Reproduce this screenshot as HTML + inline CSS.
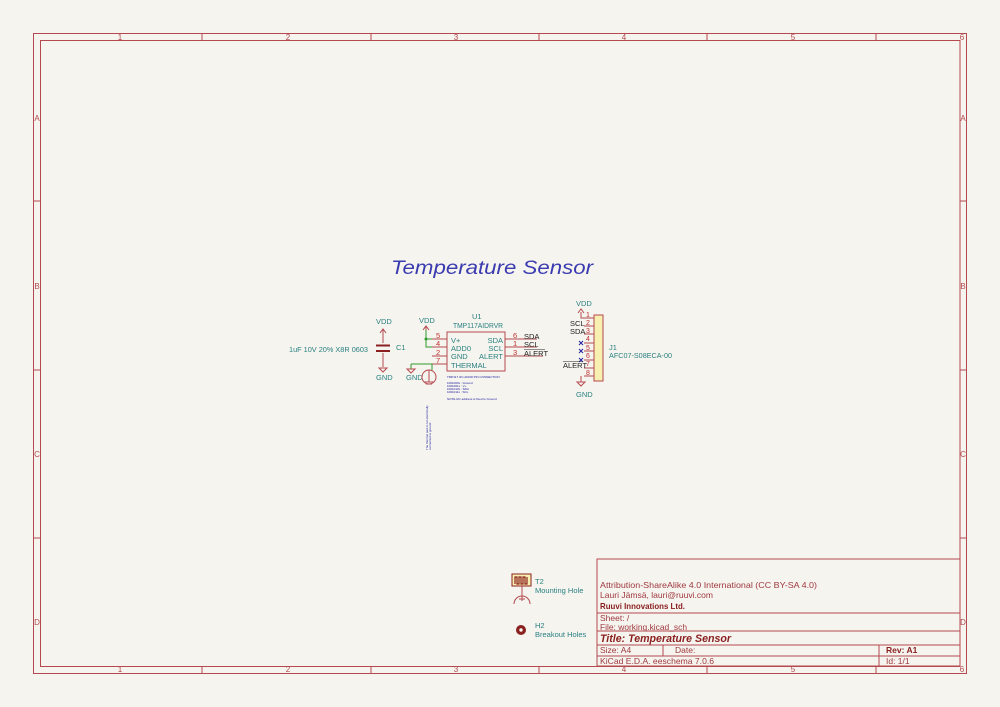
<!DOCTYPE html>
<html><head><style>body{margin:0;background:#f5f4ef}svg{display:block}</style></head><body>
<svg width="1000" height="707" viewBox="0 0 1000 707" xmlns="http://www.w3.org/2000/svg" font-family="Liberation Sans, sans-serif">
<rect width="1000" height="707" fill="#f5f4ef"/>
<g fill="none" stroke="#b5494f" stroke-width="1">
<rect x="33.5" y="33.5" width="933" height="640"/>
<rect x="40.5" y="40.5" width="919.5" height="626"/>
<path d="M202 33.5V40.5M371 33.5V40.5M539 33.5V40.5M707 33.5V40.5M876 33.5V40.5M202 666.5V673.5M371 666.5V673.5M539 666.5V673.5M707 666.5V673.5M876 666.5V673.5M33.5 201H40.5M33.5 370H40.5M33.5 538H40.5M960 201H966.5M960 370H966.5M960 538H966.5"/>
<rect x="597" y="559" width="363" height="107"/>
<path d="M597 613H960M597 631H960M597 645H960M597 656H960M663 645V656M879 645V666"/>
</g>
<g fill="#b5494f" font-size="8" text-anchor="middle">
<text x="120" y="40">1</text><text x="288" y="40">2</text><text x="456" y="40">3</text><text x="624" y="40">4</text><text x="793" y="40">5</text><text x="962" y="40">6</text>
<text x="120" y="672">1</text><text x="288" y="672">2</text><text x="456" y="672">3</text><text x="624" y="672">4</text><text x="793" y="672">5</text><text x="962" y="672">6</text>
<text x="37" y="121">A</text><text x="37" y="289">B</text><text x="37" y="457">C</text><text x="37" y="625">D</text>
<text x="963" y="121">A</text><text x="963" y="289">B</text><text x="963" y="457">C</text><text x="963" y="625">D</text>
</g>
<g fill="#8b2020" font-size="8.5">
<text x="600" y="588" fill="#a0393f" textLength="217" lengthAdjust="spacingAndGlyphs">Attribution-ShareAlike 4.0 International (CC BY-SA 4.0)</text>
<text x="600" y="598" fill="#a0393f" textLength="113" lengthAdjust="spacingAndGlyphs">Lauri Jämsä, lauri@ruuvi.com</text>
<text x="600" y="609" font-weight="bold" textLength="85" lengthAdjust="spacingAndGlyphs">Ruuvi Innovations Ltd.</text>
<text x="600" y="621" fill="#a0393f">Sheet: /</text>
<text x="600" y="630" fill="#a0393f" textLength="87" lengthAdjust="spacingAndGlyphs">File: working.kicad_sch</text>
<text x="600" y="642" font-size="11" font-weight="bold" font-style="italic" textLength="131" lengthAdjust="spacingAndGlyphs">Title: Temperature Sensor</text>
<text x="600" y="653" fill="#a0393f">Size: A4</text>
<text x="675" y="653" fill="#a0393f">Date:</text>
<text x="886" y="653" font-weight="bold">Rev: A1</text>
<text x="600" y="664" fill="#a0393f" textLength="114" lengthAdjust="spacingAndGlyphs">KiCad E.D.A.  eeschema 7.0.6</text>
<text x="886" y="664" fill="#a0393f">Id: 1/1</text>
</g>
<text x="391" y="274" font-size="19" font-style="italic" fill="#3b3bb0" textLength="202" lengthAdjust="spacingAndGlyphs">Temperature Sensor</text>
<!-- C1 -->
<g stroke="#b5494f" fill="none">
<path d="M383 330V343M383 353V367M380 333L383 329L386 333M379 368H387L383 372Z"/>
</g>
<path d="M376 345.5H390M376 351H390" stroke="#8b2020" stroke-width="2"/>
<g fill="#2a8080" font-size="7.5">
<text x="376" y="324">VDD</text><text x="376" y="380">GND</text>
<text x="396" y="350">C1</text>
<text x="289" y="352" textLength="79" lengthAdjust="spacingAndGlyphs">1uF 10V 20% X8R 0603</text>
<text x="419" y="323">VDD</text><text x="406" y="380">GND</text>
<text x="472" y="319">U1</text>
<text x="453" y="328" textLength="50" lengthAdjust="spacingAndGlyphs">TMP117AIDRVR</text>
<text x="451" y="343">V+</text><text x="451" y="351">ADD0</text><text x="451" y="359">GND</text><text x="451" y="368">THERMAL</text>
<g text-anchor="end"><text x="503" y="343">SDA</text><text x="503" y="351">SCL</text><text x="503" y="359">ALERT</text></g>
<text x="609" y="350">J1</text><text x="609" y="358" textLength="63" lengthAdjust="spacingAndGlyphs">AFC07-S08ECA-00</text>
<text x="576" y="306">VDD</text><text x="576" y="397">GND</text>
<text x="535" y="584">T2</text><text x="535" y="593">Mounting Hole</text>
<text x="535" y="628">H2</text><text x="535" y="637">Breakout Holes</text>
</g>
<!-- U1 -->
<g stroke="#b5494f" fill="none">
<rect x="447" y="332" width="58" height="39"/>
<path d="M432 339H447M432 347H447M432 356H447M432 364H447M505 339H520M505 347H520M505 356H520M426 327V330M423 330L426 326L429 330M520 339H537M520 347H537M520 356H543"/>
<circle cx="429" cy="377" r="7"/>
<path d="M429 370V382M424 382H434M426 384H432"/>
</g>
<g stroke="#2e9a2e" fill="none"><path d="M426 330V347H432M426 339H432M411 364H432M411 364V369M432 364V370"/></g>
<circle cx="426" cy="339" r="1.5" fill="#2e9a2e"/>
<path d="M407 369H415L411 373Z" fill="none" stroke="#b5494f"/>
<g fill="#c03030" font-size="7.5">
<text x="436" y="338">5</text><text x="436" y="346">4</text><text x="436" y="355">2</text><text x="436" y="363">7</text>
<text x="513" y="338">6</text><text x="513" y="346">1</text><text x="513" y="355">3</text>
</g>
<g fill="#2020a0" font-size="3">
<text x="447" y="378">TMP117 I2C ADDR PIN CONNECTION</text>
<text x="447" y="384">1001000x : Ground</text><text x="447" y="387">1001001x : V+</text>
<text x="447" y="390">1001010x : SDA</text><text x="447" y="393">1001011x : SCL</text>
<text x="447" y="400">NOTE I2C address is fixed to Ground</text>
<text transform="translate(428,450) rotate(-90)">The thermal pad is not electrically</text>
<text transform="translate(431,450) rotate(-90)">connected to ground</text>
</g>
<!-- J1 -->
<rect x="594" y="315" width="9" height="66" fill="#f7f0b0" stroke="#b5494f"/>
<g stroke="#b5494f" fill="none">
<path d="M584 318H594M584 326H594M584 334H594M584 343H594M584 351H594M584 360H594M584 368H594M584 376H594M581 312V318H584M578 313L581 309L584 313M581 376V382M577 382H585L581 386Z"/>
</g>
<g stroke="#2020a0"><path d="M579 341L583 345M583 341L579 345M579 349L583 353M583 349L579 353M579 358L583 362M583 358L579 362"/></g>
<g fill="#c03030" font-size="7"><text x="586" y="317">1</text><text x="586" y="325">2</text><text x="586" y="333">3</text><text x="586" y="341">4</text><text x="586" y="350">5</text><text x="586" y="358">6</text><text x="586" y="366">7</text><text x="586" y="375">8</text></g>
<g fill="#222" font-size="7.5">
<text x="524" y="339">SDA</text><text x="524" y="347">SCL</text><text x="524" y="356">ALERT</text>
<text x="570" y="326">SCL</text><text x="570" y="334">SDA</text><text x="563" y="368">ALERT</text>
</g>
<path d="M524 349.5H545M563 361.5H583" stroke="#222" stroke-width="0.6"/>
<!-- T2 -->
<rect x="512" y="574" width="19" height="12" fill="#f7f0b0" stroke="#8b2020"/>
<path d="M515 584V577h2v7h2v-7h2v7h2v-7h2v7h2v-7" fill="none" stroke="#8b2020" stroke-width="1.2"/>
<g stroke="#b5494f" fill="none"><path d="M522 586V601M514 604A8 8 0 0 1 530 604M519 599H525"/></g>
<circle cx="521" cy="630" r="5" fill="#8b2020"/><circle cx="521" cy="630" r="1.7" fill="#f5f4ef"/>
</svg>
</body></html>
